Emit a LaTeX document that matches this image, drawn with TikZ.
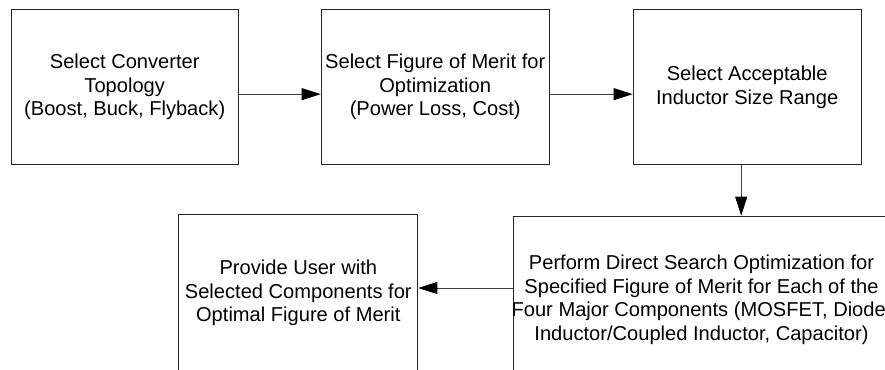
\documentclass[tikz,border=0pt]{standalone}
\usepackage{fontspec}
\setmainfont{Liberation Sans}
\usetikzlibrary{arrows.meta}
\begin{document}
\begin{tikzpicture}[x=1pt,y=-1pt,
  boxfont/.style={font=\fontsize{20.1}{23.5}\selectfont},
  stepbox/.style={draw=black!85, line width=1pt, inner sep=0pt,
    align=center, anchor=north west, boxfont},
  txt/.style={inner sep=0pt, align=center, boxfont},
  flow/.style={draw=black!75, line width=0.9pt,
    -{Triangle[length=19pt,width=12pt,color=black]}}]
\useasboundingbox (0,0) rectangle (885,369);
\clip (0,0) rectangle (885,369);

% top row
\node[stepbox, minimum width=227pt, minimum height=154.7pt] (b1) at (10.7,9.3)
  {Select Converter\\Topology\\(Boost, Buck, Flyback)};
\node[stepbox, minimum width=228pt, minimum height=154.7pt] (b2) at (320.7,9.3)
  {Select Figure of Merit for\\Optimization\\(Power Loss, Cost)};
\node[stepbox, minimum width=228pt, minimum height=154.7pt] (b3) at (632.7,9.3)
  {Select Acceptable\\Inductor Size Range};

% bottom row
\node[stepbox, minimum width=239pt, minimum height=156pt] (b4) at (178.3,214.3)
  {Provide User with\\Selected Components for\\Optimal Figure of Merit};
\node[stepbox, minimum width=373.4pt, minimum height=167pt] (b5) at (513.3,215.7) {};
\node[txt] (t5) at ([xshift=1pt]b5.center)
  {Perform Direct Search Optimization for\\Specified Figure of Merit for Each of the\\Four Major Components (MOSFET, Diode,\\Inductor/Coupled Inductor, Capacitor)};

% connectors
\draw[flow] ([yshift=-7pt]b1.east) -- ([yshift=-7pt]b2.west);
\draw[flow] ([yshift=-7pt]b2.east) -- ([yshift=-7pt]b3.west);
\draw[flow] ([xshift=-6pt]b3.south) -- ([xshift=-6pt]b3.south |- b5.north);
\draw[flow] ([yshift=11.7pt]b5.west) -- ([yshift=11.7pt]b5.west -| b4.east);
\end{tikzpicture}
\end{document}
